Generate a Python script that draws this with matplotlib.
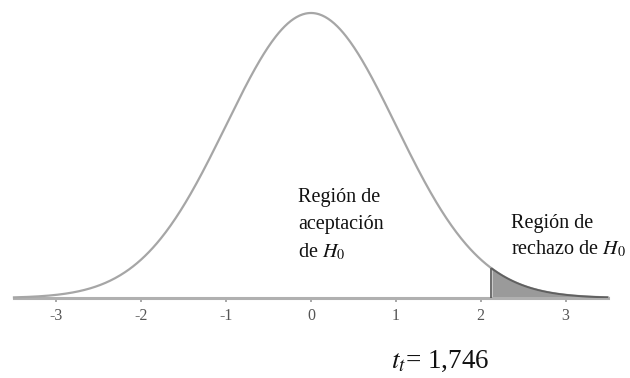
import numpy as np
import matplotlib
matplotlib.use("Agg")
import matplotlib.pyplot as plt

plt.rcParams['font.family'] = ['Liberation Serif', 'DejaVu Serif']
plt.rcParams['mathtext.fontset'] = 'stix'

# distribution + critical value
mu = 0.0
sigma = 1.0
t_crit = 2.125          # where the shaded tail starts (as drawn)
t_label = "1,746"
tick_vals = [-3, -2, -1, 0, 1, 2, 3]
tick_labels = ["-3", "-2", "-1", "0", "1", "2", "3"]

x = np.linspace(-3.5, 3.5, 600)
pdf = np.exp(-0.5 * ((x - mu) / sigma) ** 2) / (sigma * np.sqrt(2 * np.pi))

W, H = 630, 378
fig = plt.figure(figsize=(W / 100, H / 100), dpi=100)
ax = fig.add_axes([14 / W, (H - 298) / H, 594 / W, 285 / H])

ax.plot(x, pdf, color='#a6a6a6', lw=1.6, clip_on=False, zorder=3)
tail = x >= t_crit
ax.fill_between(x[tail], 0, pdf[tail], color='#9a9a9a', lw=0, zorder=2)
ax.plot([t_crit, t_crit], [0, pdf[tail][0]], color='#555555', lw=1.2, zorder=3)
ax.plot(x[tail], pdf[tail], color='#606060', lw=1.4, zorder=3)

ax.set_xlim(-3.5, 3.5)
ax.set_ylim(0, pdf.max())
for s in ['top', 'left', 'right']:
    ax.spines[s].set_visible(False)
ax.spines['bottom'].set_color('#b0b0b0')
ax.spines['bottom'].set_linewidth(2.2)
ax.set_yticks([])
ax.set_xticks(tick_vals)
ax.set_xticklabels(tick_labels)
ax.tick_params(axis='x', direction='out', length=3, width=1.2, color='#999999',
               labelcolor='#555555', labelsize=11.5, pad=4)

fs = 14.5
def line(px, py, s, size=fs):
    fig.text(px / W, 1 - py / H, s, fontsize=size, va='baseline', ha='left', color='#111111')

line(298, 202, "Región de")
line(298, 229, "aceptación")
line(298, 257, r"de $H_0$")
line(511, 228, "Región de")
line(511, 254, r"rechazo de $H_0$")
line(391, 368, r"$t_t$= " + t_label, size=19.5)

fig.savefig("out.png", dpi=100)
